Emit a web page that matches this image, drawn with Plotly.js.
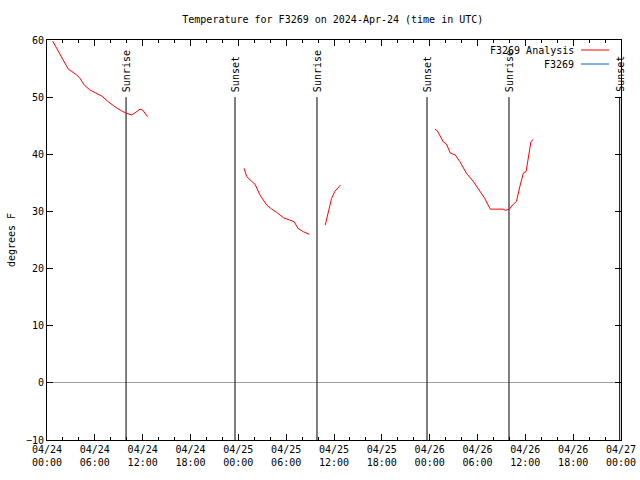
<!DOCTYPE html>
<html>
<head>
<meta charset="utf-8">
<script src="https://cdn.plot.ly/plotly-3.0.1.min.js"></script>
<style>html,body{margin:0;padding:0;background:#fff;}#chart{width:640px;height:480px;}</style>
</head>
<body>
<div id="chart"></div>
<script>
// Analysis series (null = gap)
const analysisTimes = [
  '2024-04-24 00:43','2024-04-24 01:05','2024-04-24 01:38','2024-04-24 02:10','2024-04-24 02:40','2024-04-24 03:06','2024-04-24 03:43','2024-04-24 04:08','2024-04-24 04:41','2024-04-24 05:23','2024-04-24 06:01','2024-04-24 06:52','2024-04-24 07:41','2024-04-24 08:32','2024-04-24 09:22','2024-04-24 09:55','2024-04-24 10:36','2024-04-24 11:00','2024-04-24 11:40','2024-04-24 12:00','2024-04-24 12:36',
  '2024-04-24 18:00',
  '2024-04-25 00:43','2024-04-25 01:03','2024-04-25 01:48','2024-04-25 02:06','2024-04-25 02:42','2024-04-25 03:34','2024-04-25 04:11','2024-04-25 04:48','2024-04-25 05:39','2024-04-25 06:30','2024-04-25 07:00','2024-04-25 07:30','2024-04-25 08:09','2024-04-25 08:54',
  '2024-04-25 10:00',
  '2024-04-25 10:54','2024-04-25 11:12','2024-04-25 11:42','2024-04-25 12:06','2024-04-25 12:33','2024-04-25 12:48',
  '2024-04-25 18:00',
  '2024-04-26 00:40','2024-04-26 00:58','2024-04-26 01:42','2024-04-26 02:06','2024-04-26 02:36','2024-04-26 03:12','2024-04-26 03:48','2024-04-26 04:36','2024-04-26 05:30','2024-04-26 06:18','2024-04-26 06:54','2024-04-26 07:36','2024-04-26 09:12','2024-04-26 09:30','2024-04-26 10:00','2024-04-26 10:18','2024-04-26 10:54','2024-04-26 11:18','2024-04-26 11:45','2024-04-26 12:06','2024-04-26 12:24','2024-04-26 12:42','2024-04-26 13:00'
];
const analysisValues = [
  59.8,58.9,57.4,56.0,54.9,54.5,53.9,53.3,52.1,51.25,50.8,50.2,49.2,48.3,47.6,47.2,46.9,47.2,47.9,47.75,46.6,
  null,
  37.55,36.1,35.1,34.75,32.9,31.1,30.4,29.85,28.9,28.5,28.2,27.0,26.45,26.0,
  null,
  27.6,29.4,32.3,33.5,34.3,34.6,
  null,
  44.4,44.1,42.2,41.8,40.2,39.9,38.7,36.7,35.2,33.6,32.3,30.4,30.4,30.2,30.4,30.95,31.8,34.3,36.7,37.0,39.9,42.2,42.6
];
// Observed series (no data in this window)
const obsTimes = [];
const obsValues = [];

// Sun events
const eventTimes = ['2024-04-24 09:55','2024-04-24 23:35','2024-04-25 09:52','2024-04-25 23:40','2024-04-26 09:57','2024-04-26 23:50'];
const eventLabels = ['Sunrise','Sunset','Sunrise','Sunset','Sunrise','Sunset'];
const eventLow = -10, eventHigh = 50;

const tickVals = ['2024-04-24 00:00','2024-04-24 06:00','2024-04-24 12:00','2024-04-24 18:00','2024-04-25 00:00','2024-04-25 06:00','2024-04-25 12:00','2024-04-25 18:00','2024-04-26 00:00','2024-04-26 06:00','2024-04-26 12:00','2024-04-26 18:00','2024-04-27 00:00'];
const tickText = ['04/24<br>00:00','04/24<br>06:00','04/24<br>12:00','04/24<br>18:00','04/25<br>00:00','04/25<br>06:00','04/25<br>12:00','04/25<br>18:00','04/26<br>00:00','04/26<br>06:00','04/26<br>12:00','04/26<br>18:00','04/27<br>00:00'];

const FONT = 'DejaVu Sans Mono, monospace';

const evX = [], evY = [];
eventTimes.forEach(t => { evX.push(t, t, null); evY.push(eventLow, eventHigh, null); });

const traces = [
  {x: evX, y: evY, mode: 'lines', line: {color: '#000', width: 1}, showlegend: false, hoverinfo: 'skip', connectgaps: false},
  {x: analysisTimes, y: analysisValues, mode: 'lines', name: 'F3269 Analysis', line: {color: '#ff0000', width: 1}, connectgaps: false, showlegend: false},
  {x: obsTimes, y: obsValues, mode: 'lines', name: 'F3269', line: {color: '#0066cc', width: 1}, showlegend: false}
];

const annotations = eventTimes.map((t, i) => ({
  x: t, y: eventHigh, xref: 'x', yref: 'y', text: eventLabels[i], textangle: -90,
  showarrow: false, xanchor: 'center', yanchor: 'bottom', yshift: 3,
  font: {family: FONT, size: 10, color: '#000'}
}));
// manual gnuplot-style legend (text then sample line)
const legendItems = [{name: 'F3269 Analysis', color: '#ff0000'}, {name: 'F3269', color: '#0066cc'}];
const shapes = [];
legendItems.forEach((it, i) => {
  const yPx = 50 + i * 14;
  const yPaper = 1 - (yPx - 40) / 400;
  annotations.push({x: (576 - 47) / 574, y: yPaper, xref: 'paper', yref: 'paper', text: it.name, showarrow: false,
    xanchor: 'right', yanchor: 'middle', font: {family: FONT, size: 10, color: '#000'}});
  shapes.push({type: 'line', xref: 'paper', yref: 'paper', x0: (581 - 47) / 574, x1: (609 - 47) / 574, y0: yPaper, y1: yPaper,
    line: {color: it.color, width: 1}});
});

const layout = {
  width: 640, height: 480,
  margin: {l: 47, r: 19, t: 40, b: 40, pad: 0},
  paper_bgcolor: '#fff', plot_bgcolor: '#fff',
  font: {family: FONT, size: 10, color: '#000'},
  title: {text: 'Temperature for F3269 on 2024-Apr-24 (time in UTC)', x: 0.52, xanchor: 'center', y: 0.96, yanchor: 'middle', font: {family: FONT, size: 10}},
  showlegend: false,
  xaxis: {
    type: 'date', range: ['2024-04-24 00:00', '2024-04-27 00:00'],
    tickvals: tickVals, ticktext: tickText, ticks: 'inside', ticklen: 6, tickcolor: '#000',
    minor: {dtick: 2 * 3600000, ticks: 'inside', ticklen: 3, tickcolor: '#000', showgrid: false},
    showline: true, linecolor: '#000', linewidth: 1, mirror: 'allticks', showgrid: false, zeroline: false,
    tickfont: {family: FONT, size: 10}
  },
  yaxis: {
    range: [-10, 60], dtick: 10, ticks: 'inside', ticklen: 6, tickcolor: '#000',
    showline: true, linecolor: '#000', linewidth: 1, mirror: 'allticks', showgrid: false,
    zeroline: true, zerolinecolor: '#a0a0a0', zerolinewidth: 1,
    title: {text: 'degrees F', font: {family: FONT, size: 10}, standoff: 8},
    tickfont: {family: FONT, size: 10}
  },
  annotations: annotations,
  shapes: shapes
};

Plotly.newPlot('chart', traces, layout, {staticPlot: true, displayModeBar: false});
</script>
</body>
</html>
